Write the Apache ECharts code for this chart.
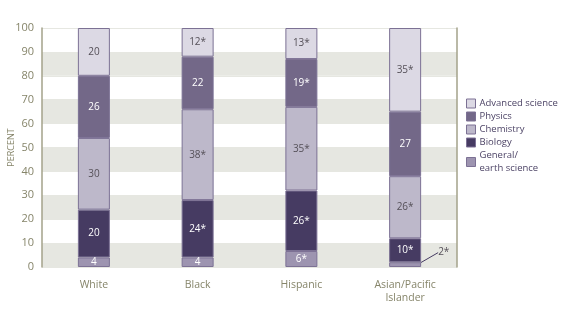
<!DOCTYPE html>
<html><head><meta charset="utf-8">
<script src="https://cdn.jsdelivr.net/npm/echarts@6/dist/echarts.min.js"></script>
<style>html,body{margin:0;padding:0;background:#fff}#c{width:564px;height:325px}</style>
</head><body><div id="c"></div>
<script>
const categories = ['White', 'Black', 'Hispanic', 'Asian/Pacific\nIslander'];
const seriesNames = ['General/\nearth science', 'Biology', 'Chemistry', 'Physics', 'Advanced science'];
const general   = [4, 4, 6.7, 2];
const biology   = [20, 24, 25.3, 10];
const chemistry = [30, 38, 35, 26];
const physics   = [26, 22, 20, 27];
const advanced  = [20, 12, 13, 35];
const generalLabels   = ['4', '4', '6*', '2*'];
const biologyLabels   = ['20', '24*', '26*', '10*'];
const chemistryLabels = ['30', '38*', '35*', '26*'];
const physicsLabels   = ['26', '22', '19*', '27'];
const advancedLabels  = ['20', '12*', '13*', '35*'];
const yTicks = [0, 10, 20, 30, 40, 50, 60, 70, 80, 90, 100];

const colors = ['#9d94b0', '#463b62', '#bdb8ca', '#736888', '#dcd9e4'];
const textColors = ['#ffffff', '#ffffff', '#555058', '#ffffff', '#555058'];
const values = [general, biology, chemistry, physics, advanced];
const labels = [generalLabels, biologyLabels, chemistryLabels, physicsLabels, advancedLabels];
const FONT = '"Open Sans", sans-serif';

const series = values.map((vals, si) => ({
  name: seriesNames[si],
  type: 'bar',
  stack: 'all',
  barWidth: 32,
  itemStyle: { color: colors[si], borderColor: '#7c7194', borderWidth: 1 },
  emphasis: { disabled: true },
  label: {
    show: true, position: 'inside', color: textColors[si],
    fontFamily: FONT, fontSize: 10,
    formatter: p => labels[si][p.dataIndex]
  },
  labelLine: { show: si === 0, lineStyle: { color: '#463b62', width: 1 }, length2: 0 },
  labelLayout: si === 0 ? (p => p.dataIndex === 3 ? { dx: 33, dy: -12, align: 'left' } : {}) : undefined,
  data: vals.map((v, i) => ({
    value: v,
    labelLine: { show: si === 0 && i === 3 },
    label: (si === 0 && i === 3) ? { color: '#555058', position: 'inside' } : undefined
  }))
}));

const chart = echarts.init(document.getElementById('c'), null, { renderer: 'canvas' });
chart.setOption({
  animation: false,
  backgroundColor: '#ffffff',
  grid: { left: 42, right: 107, top: 28, bottom: 58, containLabel: false, outerBoundsMode: 'none' },
  legend: {
    orient: 'vertical', left: 461, top: 92, itemWidth: 9, itemHeight: 9, itemGap: 0,
    icon: 'rect',
    data: ['Advanced science', 'Physics', 'Chemistry', 'Biology', 'General/\nearth science'],
    textStyle: { fontFamily: FONT, fontSize: 9.5, color: '#4d4466', lineHeight: 13, padding: [0, 0, 0, -1] },
    itemStyle: { borderColor: '#7c7194', borderWidth: 1 },
    selectedMode: false
  },
  xAxis: {
    type: 'category', data: categories,
    axisLine: { show: false }, axisTick: { show: false },
    axisLabel: { color: '#86856a', fontFamily: FONT, fontSize: 10.5, margin: 12, lineHeight: 13 }
  },
  yAxis: [{
    type: 'value', min: 0, max: 100, interval: 10,
    name: 'PERCENT', nameLocation: 'middle', nameGap: 26, nameRotate: 90, nameMoveOverlap: false,
    nameTextStyle: { color: '#86856a', fontFamily: FONT, fontSize: 9 },
    axisLine: { show: true, lineStyle: { color: '#a3a28a', width: 1.5 } },
    axisTick: { show: false },
    axisLabel: { color: '#86856a', fontFamily: FONT, fontSize: 11, margin: 8,
      formatter: v => yTicks.includes(v) ? String(v) : '' },
    splitLine: { show: true, lineStyle: { color: '#e6e7e1', width: 1 } },
    splitArea: { show: true, areaStyle: { color: ['#e6e7e1', '#ffffff'] } }
  }, {
    type: 'value', min: 0, max: 100, interval: 10, position: 'right',
    axisLine: { show: true, lineStyle: { color: '#a3a28a', width: 1.5 } },
    axisTick: { show: false }, axisLabel: { show: false }, splitLine: { show: false }
  }],
  series: series
});
</script></body></html>
